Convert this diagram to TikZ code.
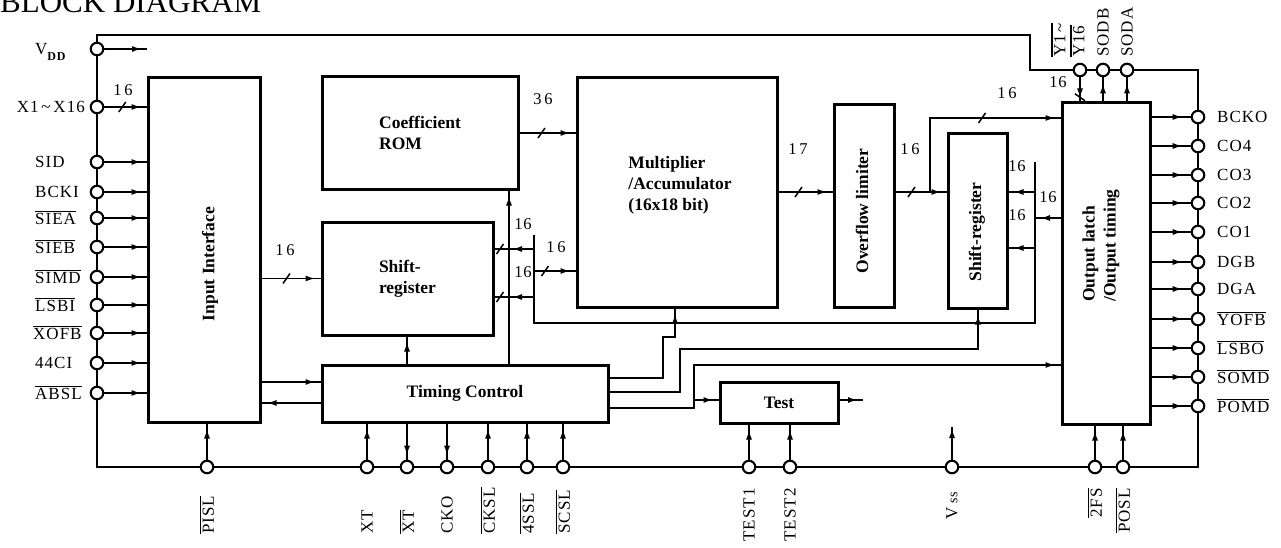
\documentclass[tikz,border=0pt]{standalone}
\usepackage{fontspec}
\setmainfont{Liberation Serif}
\newfontfamily\pinf{Liberation Serif}[LetterSpace=6]
\usetikzlibrary{arrows.meta,decorations.markings}
\pgfdeclarelayer{bg}
\pgfsetlayers{bg,main}
\newcommand\ovl[1]{\leavevmode\vbox{\hrule height 1.2pt\kern1.6pt\hbox{#1}}}
\tikzset{
  wire/.style={line width=1.9pt},
  rail/.style={line width=2.6pt},
  blk/.style={draw,line width=3pt,inner sep=0pt,font=\fontsize{17.5}{21}\selectfont\bfseries,align=left},
  btxt/.style={inner sep=0pt,font=\fontsize{17.5}{21}\selectfont\bfseries,align=left},
  pinc/.style={circle,draw,fill=white,line width=2.1pt,minimum size=12.5pt,inner sep=0pt},
  plab/.style={inner sep=0pt,font=\pinf\fontsize{17}{19}\selectfont},
  bnum/.style={inner sep=0pt,font=\pinf\fontsize{16.5}{18}\selectfont},
  arw/.style={postaction={decorate,decoration={markings,mark=at position #1 with {\arrow{Latex[length=10pt,width=6pt]}}}}},
  arw/.default=-5pt,
  busmark/.style={postaction={decorate,decoration={markings,mark=at position #1 with {\draw[line width=1.5pt] (-3.5pt,-5pt)--(3.5pt,5pt);}}}},
}
\begin{document}
\begin{tikzpicture}[x=1pt,y=-1pt]
\useasboundingbox (0,0) rectangle (1281,548);

% title
\node[anchor=base west,inner sep=0pt,font=\fontsize{31}{31}\selectfont] (title) at (0,13) {BLOCK DIAGRAM};

% helper coordinates
\foreach \v in {118,133,192,218,248,249,271,297,365,378,382,392,400,403,408}
  \coordinate (y\v) at (0,\v);
\foreach \v in {407,509,675,978}
  \coordinate (x\v) at (\v,0);

% blocks
\node[blk,minimum width=112pt,minimum height=344pt] (II) at (204,250) {};
\node[btxt,rotate=90] (IIt) at (210,264) {Input Interface};
\node[blk,minimum width=196pt,minimum height=112pt] (ROM) at (420,133) {Coefficient\\ROM};
\node[blk,minimum width=171pt,minimum height=113pt] (SR1) at (407.5,278.5) {Shift-\\register};
\node[blk,minimum width=286pt,minimum height=57pt] (TC) at (465,393.5) {Timing Control};
\node[blk,minimum width=200pt,minimum height=229pt] (MA) at (677,192.5) {};
\node[btxt] (MAt) at (680,185) {Multiplier\\/Accumulator\\(16x18 bit)};
\node[blk,minimum width=60pt,minimum height=202pt] (OL) at (864,206) {};
\node[btxt,rotate=90] (OLt) at (862,211) {Overflow limiter};
\node[blk,minimum width=59pt,minimum height=174pt] (SR2) at (977.5,221) {};
\node[btxt,rotate=90] (SR2t) at (977,232) {Shift-register};
\node[blk,minimum width=88pt,minimum height=321pt] (LT) at (1106,263.5) {};
\node[btxt,rotate=90,anchor=west] (LTt) at (1101,302) {Output latch\\/Output timing};
\node[blk,minimum width=118pt,minimum height=41pt] (TS) at (779,402.5) {Test};

% pins: left
\foreach \n/\y in {vdd/49,x116/107,sid/162,bcki/192,siea/218,sieb/247,simd/277,lsbi/305,xofb/333,c44/363,absl/393}
  \node[pinc] (\n) at (97,\y) {};
% pins: right
\foreach \n/\y in {bcko/117,co4/146,co3/175,co2/203,co1/232,dgb/262,dga/289,yofb/319,lsbo/348,somd/377,pomd/406}
  \node[pinc] (\n) at (1198,\y) {};
% pins: bottom
\foreach \n/\x in {pisl/207,xt/367,xtb/407,cko/447,cksl/488,ssl4/527,scsl/563,test1/749,test2/790,vss/952,fs2/1095,posl/1123}
  \node[pinc] (\n) at (\x,467) {};
% pins: top
\foreach \n/\x in {y116/1080,sodb/1103,soda/1127}
  \node[pinc] (\n) at (\x,70) {};

% power rail
\begin{pgfonlayer}{bg}
\coordinate (r1) at (97,35);
\coordinate (r2) at (1030,35);
\coordinate (r3) at (1030,70);
\coordinate (r4) at (1198,70);
\coordinate (r5) at (1198,467);
\coordinate (r6) at (97,467);
\draw[rail] (r1) -- (r2) -- (r3) -- (r4) -- (r5) -- (r6) -- cycle;
\end{pgfonlayer}

% left pin labels
\node[plab,anchor=west] (l-vdd) at (35,52) {V\raisebox{-6pt}{\fontsize{12}{12}\selectfont\bfseries DD}};
\node[plab,anchor=east] (l-x116) at (85,107) {X1\,\textasciitilde\,X16};
\node[plab,anchor=west] (l-sid) at (35,162) {SID};
\node[plab,anchor=west] (l-bcki) at (35,192) {BCKI};
\node[plab,anchor=west] (l-siea) at (35,218) {\ovl{SIEA}};
\node[plab,anchor=west] (l-sieb) at (35,247) {\ovl{SIEB}};
\node[plab,anchor=west] (l-simd) at (35,277) {\ovl{SIMD}};
\node[plab,anchor=west] (l-lsbi) at (35,305) {\ovl{LSBI}};
\node[plab,anchor=west] (l-xofb) at (33,333) {\ovl{XOFB}};
\node[plab,anchor=west] (l-c44) at (35,363) {44CI};
\node[plab,anchor=west] (l-absl) at (35,393) {\ovl{ABSL}};

% right pin labels
\node[plab,anchor=west] (l-bcko) at (1217,117) {BCKO};
\node[plab,anchor=west] (l-co4) at (1217,146) {CO4};
\node[plab,anchor=west] (l-co3) at (1217,175) {CO3};
\node[plab,anchor=west] (l-co2) at (1217,203) {CO2};
\node[plab,anchor=west] (l-co1) at (1217,232) {CO1};
\node[plab,anchor=west] (l-dgb) at (1217,262) {DGB};
\node[plab,anchor=west] (l-dga) at (1217,289) {DGA};
\node[plab,anchor=west] (l-yofb) at (1217,319) {\ovl{YOFB}};
\node[plab,anchor=west] (l-lsbo) at (1217,348) {\ovl{LSBO}};
\node[plab,anchor=west] (l-somd) at (1217,377) {\ovl{SOMD}};
\node[plab,anchor=west] (l-pomd) at (1217,406) {\ovl{POMD}};

% bottom pin labels
\node[plab,rotate=90,anchor=west] (l-pisl) at (207,534) {\ovl{PISL}};
\node[plab,rotate=90,anchor=west] (l-xt) at (367,534) {XT};
\node[plab,rotate=90,anchor=west] (l-xtb) at (407,534) {\ovl{XT}};
\node[plab,rotate=90,anchor=west] (l-cko) at (447,534) {CKO};
\node[plab,rotate=90,anchor=west] (l-cksl) at (488,534) {\ovl{CKSL}};
\node[plab,rotate=90,anchor=west] (l-ssl4) at (527,534) {\ovl{4SSL}};
\node[plab,rotate=90,anchor=west] (l-scsl) at (563,534) {\ovl{SCSL}};
\node[plab,rotate=90,anchor=east] (l-test1) at (749,488) {TEST1};
\node[plab,rotate=90,anchor=east] (l-test2) at (790,488) {TEST2};
\node[plab,rotate=90,anchor=east] (l-vss) at (952,492) {V\,{\fontsize{14}{14}\selectfont ss}};
\node[plab,rotate=90,anchor=east] (l-fs2) at (1095,488) {\ovl{2FS}};
\node[plab,rotate=90,anchor=east] (l-posl) at (1123,488) {\ovl{POSL}};

% top pin labels
\node[plab,rotate=90,anchor=west,align=left] (l-y116) at (1068,57) {\ovl{Y1\,\textasciitilde}\\\ovl{Y16}};
\node[plab,rotate=90,anchor=west] (l-sodb) at (1103,57) {SODB};
\node[plab,rotate=90,anchor=west] (l-soda) at (1127,57) {SODA};

% left inputs
\coordinate (vddend) at (147,49);
\draw[wire,arw] (vdd) -- (vddend);
\draw[wire,busmark=18pt,arw] (x116) -- (II.west |- x116);
\foreach \p in {sid,bcki,siea,sieb,simd,lsbi,xofb,c44,absl}
  \draw[wire,arw] (\p) -- (II.west |- \p);
\node[bnum] (n-x) at (123,90) {1\,6};

% input interface -> shift-register
\draw[wire,busmark=25pt,arw] (II.east |- SR1.west) -- (SR1.west);
\node[bnum] (n-ii) at (285,250) {1\,6};

% timing control <-> input interface
\draw[wire,arw] (II.east |- y382) -- (TC.west |- y382);
\draw[wire,arw] (TC.west |- y403) -- (II.east |- y403);

% timing control up
\draw[wire,arw] (TC.north -| x407) -- (SR1.south -| x407);
\draw[wire,arw] (TC.north -| x509) -- (ROM.south -| x509);
\node[bnum] (n-rom) at (523,224) {16};

% ROM -> multiplier
\draw[wire,busmark=22pt,arw] (ROM.east) -- (MA.west |- ROM.east);
\node[bnum] (n-36) at (543,99) {3\,6};

% internal 16-bit bus
\coordinate (bA) at (534,235);
\coordinate (bB) at (534,323);
\coordinate (bC) at (1035,323);
\coordinate (bD) at (1035,162);
\draw[wire] (bA) -- (bB) -- (bC) -- (bD);
\draw[wire,busmark=34pt,arw=22pt] (bA |- y249) -- (SR1.east |- y249);
\draw[wire,busmark=34pt,arw=22pt] (bA |- y297) -- (SR1.east |- y297);
\draw[wire,busmark=11pt,arw] (bA |- y271) -- (MA.west |- y271);
\node[bnum] (n-s1) at (523,272) {16};
\node[bnum] (n-ma) at (556,247) {1\,6};
\draw[wire,arw] (bD |- y192) -- (SR2.east |- y192);
\draw[wire,arw] (LT.west |- y218) -- (bD |- y218);
\draw[wire,arw] (bD |- y248) -- (SR2.east |- y248);
\node[bnum] (n-s2a) at (1017,166) {16};
\node[bnum] (n-lt) at (1048,197) {16};
\node[bnum] (n-s2b) at (1017,215) {16};

% data path
\draw[wire,busmark=20pt,arw] (MA.east |- y192) -- (OL.west |- y192);
\node[bnum] (n-17) at (798,149) {1\,7};
\draw[wire,busmark=16pt,arw] (OL.east |- y192) -- (SR2.west |- y192);
\node[bnum] (n-ol) at (910,149) {1\,6};
\coordinate (br) at (930,192);
\draw[wire,busmark=126pt,arw] (br) -- (br |- y118) -- (LT.west |- y118);
\node[bnum] (n-top) at (1007,93) {1\,6};

% timing control outputs
\coordinate (t1a) at (663,378);
\coordinate (t1b) at (663,337);
\coordinate (t1c) at (675,337);
\draw[wire,arw] (TC.east |- y378) -- (t1a) -- (t1b) -- (t1c) -- (MA.south -| x675);
\coordinate (t2a) at (680,392);
\coordinate (t2b) at (680,349);
\coordinate (t2c) at (978,349);
\draw[wire,arw] (TC.east |- y392) -- (t2a) -- (t2b) -- (t2c) -- (SR2.south -| x978);
\coordinate (t3a) at (694,408);
\coordinate (t3b) at (694,365);
\draw[wire,arw] (TC.east |- y408) -- (t3a) -- (t3b) -- (LT.west |- y365);
\coordinate (tsj) at (694,400);
\draw[wire,arw] (tsj) -- (TS.west |- tsj);
\coordinate (tse) at (863,400);
\draw[wire,arw] (TS.east |- tse) -- (tse);

% bottom pins
\draw[wire,arw] (pisl) -- (II.south -| pisl);
\draw[wire,arw] (xt) -- (TC.south -| xt);
\draw[wire,arw=-4pt] (TC.south -| xtb) -- (xtb);
\draw[wire,arw=-4pt] (TC.south -| cko) -- (cko);
\draw[wire,arw] (cksl) -- (TC.south -| cksl);
\draw[wire,arw] (ssl4) -- (TC.south -| ssl4);
\draw[wire,arw] (scsl) -- (TC.south -| scsl);
\draw[wire,arw] (test1) -- (TS.south -| test1);
\draw[wire,arw] (test2) -- (TS.south -| test2);
\coordinate (vsse) at (952,427);
\draw[wire,arw=-1pt] (vss) -- (vsse);
\draw[wire,arw] (fs2) -- (LT.south -| fs2);
\draw[wire,arw] (posl) -- (LT.south -| posl);

% top pins
\draw[wire,busmark=20pt,arw=-3pt] (y116) -- (LT.north -| y116);
\node[bnum] (n-y) at (1058,82) {16};
\draw[wire,arw=-6pt] (LT.north -| sodb) -- (sodb);
\draw[wire,arw=-6pt] (LT.north -| soda) -- (soda);

% right pins
\foreach \p in {bcko,co4,co3,co2,co1,dgb,dga,yofb,lsbo,somd,pomd}
  \draw[wire,arw=-8pt] (LT.east |- \p) -- (\p);
\end{tikzpicture}
\end{document}
